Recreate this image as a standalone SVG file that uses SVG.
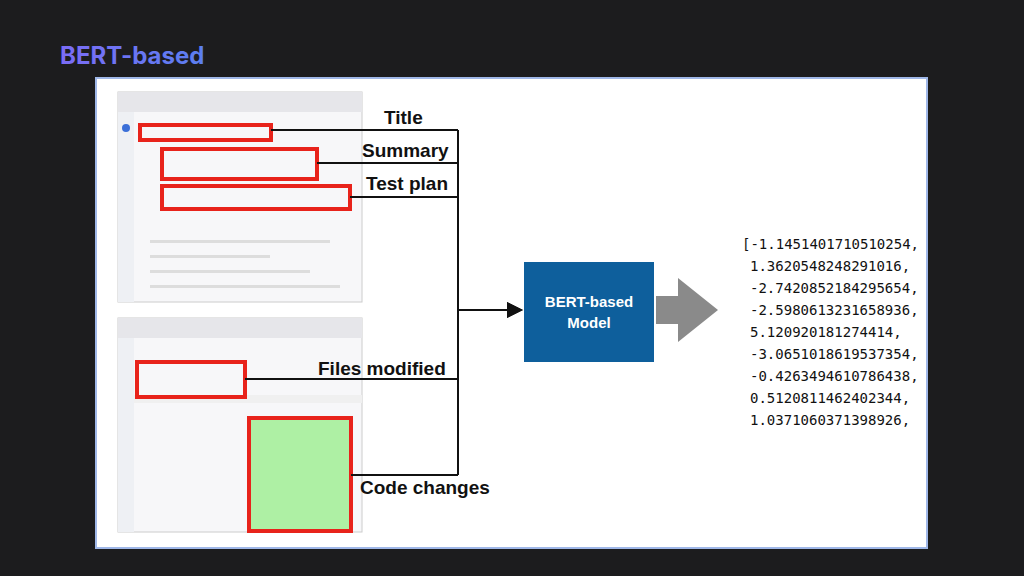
<svg xmlns="http://www.w3.org/2000/svg" width="1024" height="576" viewBox="0 0 1024 576">
<defs>
<linearGradient id="tg" x1="0" x2="1"><stop offset="0" stop-color="#7b6cf6"/><stop offset="1" stop-color="#5b7ff0"/></linearGradient>
<marker id="ah" markerWidth="8" markerHeight="8" refX="7" refY="4" orient="auto"><path d="M0,0 L8,4 L0,8 z" fill="#111"/></marker>
<style>
.lbl{font-family:"Liberation Sans",Arial,sans-serif;font-weight:bold;font-size:19px;fill:#111}
.num{font-family:"DejaVu Sans Mono","Liberation Mono",monospace;font-size:14px;fill:#111}
.red{fill:none;stroke:#e8231b;stroke-width:4}
.ln{stroke:#111;stroke-width:2;fill:none}
.shot{fill:#f7f7f9;stroke:#ccc}
.g{fill:#ddd}
</style>
</defs>
<rect width="1024" height="576" fill="#1c1c1e"/>
<text x="60" y="64" font-family="Inter,'Liberation Sans',sans-serif" font-weight="bold" font-size="24" fill="url(#tg)">BERT-based</text>
<rect x="96" y="78" width="831" height="470" fill="#fff" stroke="#9fb7e8" stroke-width="2"/>
<g id="shot1">
<rect class="shot" x="118" y="92" width="244" height="210"/>
<rect x="118" y="92" width="244" height="20" fill="#e6e6ea"/>
<rect x="118" y="112" width="16" height="190" fill="#eef0f4"/>
<circle cx="126" cy="128" r="4" fill="#3b6fd8"/>
<g class="g"><rect x="150" y="240" width="180" height="3"/><rect x="150" y="255" width="120" height="3"/><rect x="150" y="270" width="160" height="3"/><rect x="150" y="285" width="190" height="3"/></g>
<rect class="red" x="140" y="125" width="131" height="15"/>
<rect class="red" x="162" y="149" width="155" height="30"/>
<rect class="red" x="162" y="186" width="188" height="23"/>
</g>
<g id="shot2">
<rect class="shot" x="118" y="318" width="244" height="214"/>
<rect x="118" y="318" width="244" height="20" fill="#e6e6ea"/>
<rect x="118" y="338" width="16" height="194" fill="#eef0f4"/>
<rect x="134" y="395" width="228" height="8" fill="#f0f0f0"/>
<rect class="red" x="137" y="362" width="108" height="35"/>
<rect x="249" y="418" width="102" height="113" fill="#aef0a4"/>
<rect class="red" x="249" y="418" width="102" height="113"/>
</g>
<g id="labels">
<text class="lbl" x="384" y="124">Title</text>
<text class="lbl" x="362" y="157">Summary</text>
<text class="lbl" x="366" y="190">Test plan</text>
<text class="lbl" x="318" y="375">Files modified</text>
<text class="lbl" x="360" y="494">Code changes</text>
</g>
<g id="connectors">
<path class="ln" d="M271,130 H458 M317,163 H458 M350,197 H458 M245,379 H458 M351,475 H458 M458,130 V475 M458,310 H521" marker-end="url(#ah)"/>
<path class="ln" d="M458,310 H521" marker-end="url(#ah)"/>
</g>
<g id="model">
<rect x="524" y="262" width="130" height="100" fill="#0e5f9c"/>
<text x="589" y="307" text-anchor="middle" font-family="'Liberation Sans',Arial,sans-serif" font-weight="bold" font-size="15" fill="#fff">BERT-based</text>
<text x="589" y="328" text-anchor="middle" font-family="'Liberation Sans',Arial,sans-serif" font-weight="bold" font-size="15" fill="#fff">Model</text>
</g>
<path id="bigarrow" d="M656,296 H678 V278 L718,310 L678,342 V324 H656 z" fill="#8a8a8a"/>
<g id="embedding">
<text class="num" x="742" y="249">[-1.1451401710510254,</text>
<text class="num" x="750" y="271">1.3620548248291016,</text>
<text class="num" x="750" y="293">-2.7420852184295654,</text>
<text class="num" x="750" y="315">-2.5980613231658936,</text>
<text class="num" x="750" y="337">5.120920181274414,</text>
<text class="num" x="750" y="359">-3.0651018619537354,</text>
<text class="num" x="750" y="381">-0.4263494610786438,</text>
<text class="num" x="750" y="403">0.5120811462402344,</text>
<text class="num" x="750" y="425">1.0371060371398926,</text>
<text class="lbl" x="757" y="419" dy="0" display="none"></text>
</g>
<text class="lbl" x="757" y="418" visibility="hidden">x</text>
</svg>
